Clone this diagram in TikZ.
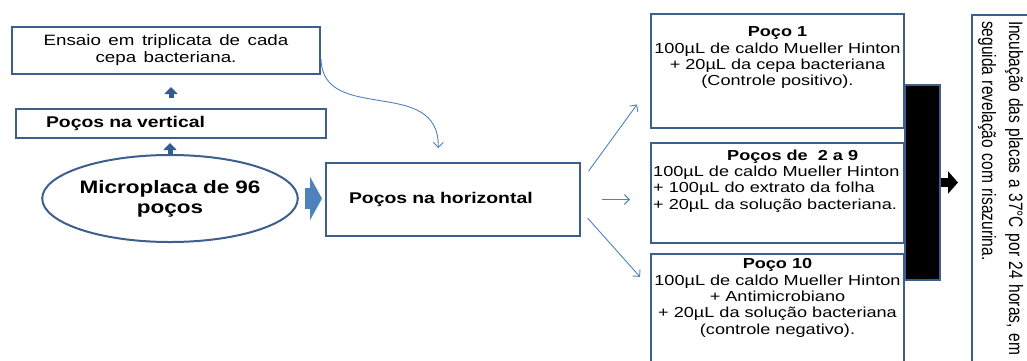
\documentclass[tikz,border=0pt]{standalone}
\usepackage{fontspec}
\setmainfont{Liberation Sans}[FakeStretch=1.25]
\newfontfamily\narrowfont{Liberation Sans}[FakeStretch=0.8]
\usetikzlibrary{shapes.geometric,arrows.meta}
\definecolor{boxblue}{RGB}{60,95,140}
\definecolor{arrowblue}{RGB}{79,129,189}
\definecolor{darkblue}{RGB}{52,92,142}
\newcommand\espaco[1]{\spaceskip #1\relax}

\begin{document}
\begin{tikzpicture}[x=1pt,y=1pt,
	caixa/.style={draw=boxblue,line width=2pt,rectangle,inner sep=0pt},
	seta/.style={arrowblue,line width=0.9pt,-{Straight Barb[length=5pt,width=10pt]}},
	setagrossa/.style={darkblue,line width=5pt,-{Triangle[length=7pt 0 0,width=13pt 0 0]}},
	texto/.style={font={\fontsize{14.5}{16.3}\selectfont}},
	]
\useasboundingbox (0,0) rectangle (1027,-360);

% lado esquerdo
\node[caixa,minimum width=308,minimum height=47,anchor=north west,align=center,
	font={\fontsize{15}{17}\selectfont\espaco{0.5em}}] (ensaio) at (11,-26)
	{Ensaio em triplicata de cada\\cepa bacteriana.};
\node[caixa,anchor=north west,minimum height=29,text width=250pt,inner xsep=30pt,
	align=left,font={\bfseries\fontsize{15.5}{17}\selectfont}] (vertical) at (15,-108)
	{Poços na vertical};
\node[ellipse,draw=boxblue,line width=2pt,minimum width=240,minimum height=87,
	inner sep=0pt,align=center,font={\bfseries\fontsize{18}{20}\selectfont\espaco{0.33em}}] (placa) at (170,-198.5)
	{Microplaca de 96\\poços};
\node[caixa,anchor=north west,minimum height=73,text width=208pt,inner xsep=23pt,
	align=left,font={\bfseries\fontsize{15.5}{17}\selectfont}] (horiz) at (325,-162)
	{Poços na horizontal};

\draw[setagrossa,shorten <=10pt,shorten >=12pt] (vertical.north) -- (vertical.north |- ensaio.south);
\draw[setagrossa,shorten >=4pt] (placa.north) -- (placa.north |- vertical.south);
\draw[arrowblue,line width=21pt,-{Triangle[length=12pt 0 0,width=43pt 0 0]},shorten <=6pt,shorten >=3pt]
	(placa.east) -- (placa.east -| horiz.west);
\draw[seta,shorten >=14pt] (ensaio.357) .. controls (322,-125) and (440,-75) .. (horiz.112);

% pocos
\node[caixa,anchor=north west,minimum width=253,minimum height=114,
	label={[anchor=north,inner sep=0pt,yshift=-13.6pt,align=center,texto]north:{%
	\textbf{Poço 1}\\100µL de caldo Mueller Hinton\\+ 20µL da cepa bacteriana\\(Controle positivo).}}]
	(poco1) at (650,-13) {};
\node[caixa,anchor=north west,minimum width=253,minimum height=100,
	label={[anchor=north west,inner sep=0pt,xshift=3pt,yshift=-7.6pt,align=left,texto]north west:{%
	\hspace*{74pt}\textbf{Poços de\ \ 2 a 9}\\100µL de caldo Mueller Hinton\\ + 100µL do extrato da folha\\ + 20µL da solução bacteriana.}}]
	(poco2) at (650,-142) {};
\node[caixa,anchor=north west,minimum width=253,minimum height=127,
	label={[anchor=north,inner sep=0pt,yshift=-5.6pt,align=center,texto]north:{%
	\textbf{Poço 10}\\100µL de caldo Mueller Hinton\\+ Antimicrobiano\\+ 20µL da solução bacteriana\\(controle negativo).}}]
	(poco10) at (650,-253) {};

\draw[seta,shorten <=13pt,shorten >=22pt] (horiz.8) -- (poco1.187);
\draw[seta,shorten <=21pt,shorten >=20pt] (horiz.east) -- (horiz.east -| poco2.west);
\draw[seta,shorten <=10pt,shorten >=15pt] (horiz.355) -- (poco10.167);

% incubacao
\node[fill=black,draw=boxblue,line width=2.5pt,minimum width=35,minimum height=195,inner sep=0pt]
	(preto) at (922.5,-182.5) {};
\node[caixa,rotate=-90,anchor=north west,text width=354pt,inner xsep=6pt,minimum height=57,
	align=left,font={\narrowfont\fontsize{19.4}{27}\selectfont}]
	(incub) at (1030,-14)
	{\espaco{5.6pt plus 1pt minus 1pt}Incubação das placas a 37°C por 24 horas, em\\seguida revelação com risazurina.};
\draw[black,line width=9pt,-{Triangle[length=10pt 0 0,width=22pt 0 0]},shorten >=13pt]
	(preto.east) -- (preto.east -| incub.south);
\end{tikzpicture}
\end{document}
